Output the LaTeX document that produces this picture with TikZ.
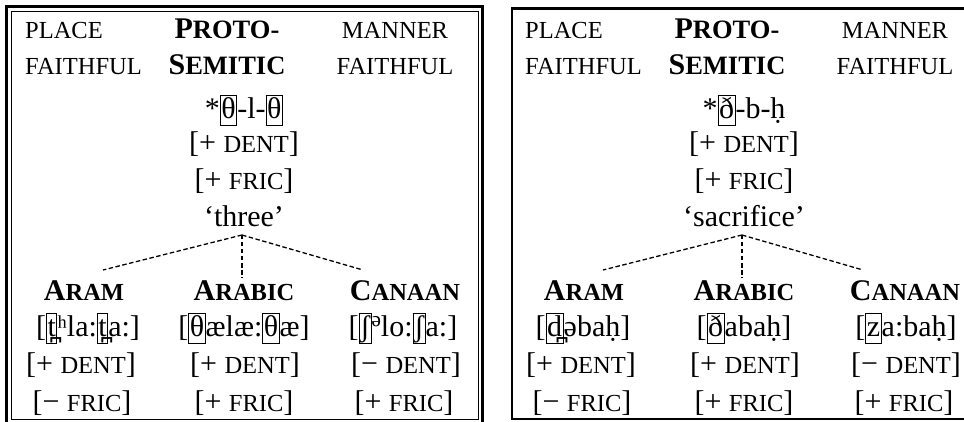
\documentclass[tikz,border=0pt]{standalone}
\usepackage{fontspec}
\setmainfont{Liberation Serif}
\usetikzlibrary{calc}

% small capitals faked from reduced upper-case letters
\newcommand\SC[1]{{\fontsize{24.5}{28}\selectfont #1}}
% bold heading: full-size initial, reduced rest
\newcommand\HD[3][24.5]{{\bfseries #2{\fontsize{#1}{28}\selectfont #3}}}
% boxed segment
\newcommand\bx[1]{{\setlength\fboxsep{0.5pt}\setlength\fboxrule{1pt}\fbox{\rule[-6pt]{0pt}{28pt}#1}}}

\tikzset{
  txt/.style={inner sep=0pt, font=\fontsize{30}{36}\selectfont, anchor=base},
  txtw/.style={txt, anchor=base west},
  tree/.style={line width=1.3pt, dash pattern=on 4.5pt off 2.5pt},
  heavyrule/.style={line width=2.5pt},
  lightrule/.style={line width=1pt},
}

\begin{document}
\begin{tikzpicture}[x=1pt,y=-1pt]
\useasboundingbox (0,0) rectangle (964,422);
\fill[white] (0,0) rectangle (964,422);
\begin{scope}
\clip (0,0) rectangle (964,422);
% frames
\draw[heavyrule] (6.5,6.5) rectangle (482.5,440);
\draw[lightrule] (11.5,11.5) rectangle (478.5,419);
\draw[heavyrule] (512,8.5) rectangle (990,419);
\end{scope}

% ---------- 'three' ----------
\node[txtw] (a-place)  at (25,39)  {\SC{PLACE}};
\node[txtw] (a-pfaith) at (25,75)  {\SC{FAITHFUL}};
\node[txt]  (a-proto)  at (227,39) {\HD[26.5]{P}{ROTO-}};
\node[txt]  (a-sem)    at (227,75) {\HD[26.5]{S}{EMITIC}};
\node[txt]  (a-manner) at (395,39) {\SC{MANNER}};
\node[txt]  (a-mfaith) at (395,75) {\SC{FAITHFUL}};
\node[txt]  (a-root)   at (244,119) {*\bx{θ}-l-\bx{θ}};
\node[txt]  (a-dent)   at (244,153) {[+ \SC{DENT}]};
\node[txt]  (a-fric)   at (244,190) {[+ \SC{FRIC}]};
\node[txt]  (a-gloss)  at (244,227) {‘three’};

\node[txt] (a-h1) at (84,300)  {\HD{A}{RAM}};
\node[txt] (a-h2) at (244,300) {\HD{A}{RABIC}};
\node[txt] (a-h3) at (405,300) {\HD{C}{ANAAN}};
\node[txt] (a-p1) at (88,336)  {[\bx{t̪}ʰla:\bx{t̪}a:]};
\node[txt] (a-p2) at (244,336) {[\bx{θ}ælæ:\bx{θ}æ]};
\node[txt] (a-p3) at (403,336) {[\bx{ʃ}{\fontsize{36}{36}\selectfont ᵊ}lo:\bx{ʃ}a:]};
\node[txt] (a-d1) at (81,373)  {[+ \SC{DENT}]};
\node[txt] (a-d2) at (245,373) {[+ \SC{DENT}]};
\node[txt] (a-d3) at (406,373) {[− \SC{DENT}]};
\node[txt] (a-f1) at (82,411)  {[− \SC{FRIC}]};
\node[txt] (a-f2) at (244,411) {[+ \SC{FRIC}]};
\node[txt] (a-f3) at (404,411) {[+ \SC{FRIC}]};

\coordinate (a-top) at ($(a-gloss.base)+(-2,8)$);
\coordinate (a-e1) at (103,270);
\coordinate (a-e2) at (242,278);
\coordinate (a-e3) at (363,270);
\draw[tree] (a-top) -- (a-e1);
\draw[tree] (a-top) -- (a-e2);
\draw[tree] (a-top) -- (a-e3);

% ---------- 'sacrifice' ----------
\begin{scope}[xshift=500pt]
\node[txtw] (b-place)  at (25,39)  {\SC{PLACE}};
\node[txtw] (b-pfaith) at (25,75)  {\SC{FAITHFUL}};
\node[txt]  (b-proto)  at (227,39) {\HD[26.5]{P}{ROTO-}};
\node[txt]  (b-sem)    at (227,75) {\HD[26.5]{S}{EMITIC}};
\node[txt]  (b-manner) at (395,39) {\SC{MANNER}};
\node[txt]  (b-mfaith) at (395,75) {\SC{FAITHFUL}};
\node[txt]  (b-root)   at (244,119) {*\bx{ð}-b-ḥ};
\node[txt]  (b-dent)   at (244,153) {[+ \SC{DENT}]};
\node[txt]  (b-fric)   at (244,190) {[+ \SC{FRIC}]};
\node[txt]  (b-gloss)  at (244,227) {‘sacrifice’};

\node[txt] (b-h1) at (84,300)  {\HD{A}{RAM}};
\node[txt] (b-h2) at (244,300) {\HD{A}{RABIC}};
\node[txt] (b-h3) at (405,300) {\HD{C}{ANAAN}};
\node[txt] (b-p1) at (83,336)  {[\bx{d̪}əbaḥ]};
\node[txt] (b-p2) at (244,336) {[\bx{ð}abaḥ]};
\node[txt] (b-p3) at (406,336) {[\bx{z}a:baḥ]};
\node[txt] (b-d1) at (81,373)  {[+ \SC{DENT}]};
\node[txt] (b-d2) at (245,373) {[+ \SC{DENT}]};
\node[txt] (b-d3) at (406,373) {[− \SC{DENT}]};
\node[txt] (b-f1) at (82,411)  {[− \SC{FRIC}]};
\node[txt] (b-f2) at (244,411) {[+ \SC{FRIC}]};
\node[txt] (b-f3) at (404,411) {[+ \SC{FRIC}]};

\coordinate (b-top) at ($(b-gloss.base)+(-2,8)$);
\coordinate (b-e1) at (103,270);
\coordinate (b-e2) at (242,278);
\coordinate (b-e3) at (363,270);
\draw[tree] (b-top) -- (b-e1);
\draw[tree] (b-top) -- (b-e2);
\draw[tree] (b-top) -- (b-e3);
\end{scope}
\end{tikzpicture}
\end{document}
